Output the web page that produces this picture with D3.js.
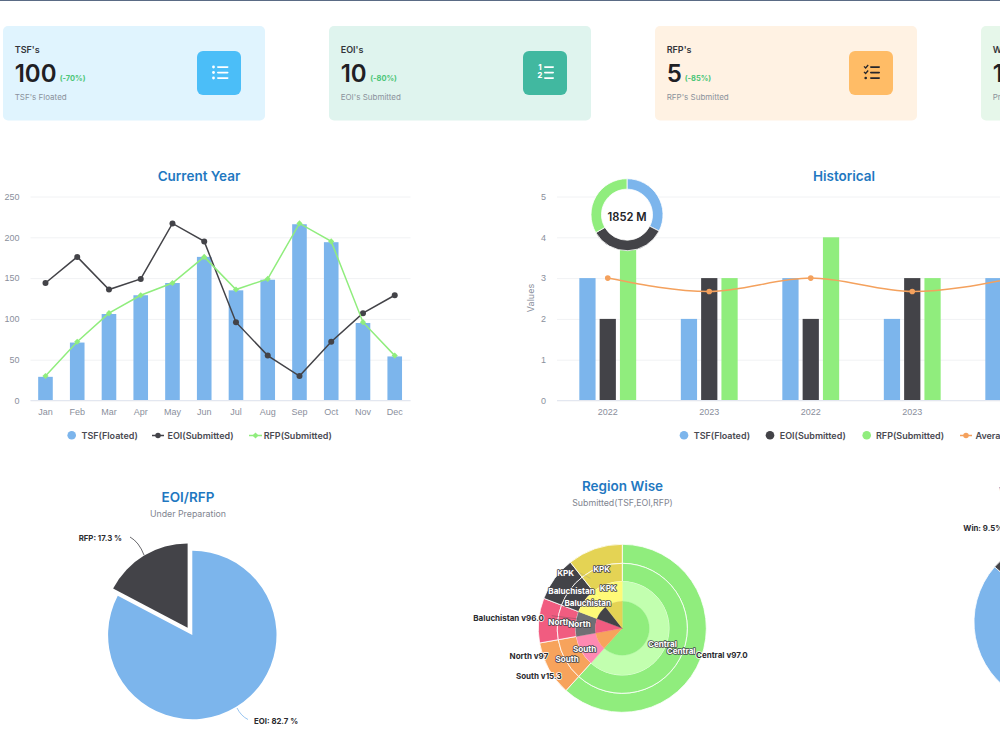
<!DOCTYPE html>
<html>
<head>
<meta charset="utf-8">
<title>Procurement dashboard</title>
<script src="https://cdn.jsdelivr.net/npm/d3@7/dist/d3.min.js"></script>
<style>
  html, body { margin: 0; padding: 0; background: #fff; overflow: hidden; }
  svg { display: block; font-family: Inter, "Noto Sans", sans-serif; }
  .tick-label { font-size: 9px; fill: #8a8f9c; }
  .title { font-size: 13.5px; font-weight: 600; fill: #1f78c1; text-anchor: middle; }
  .subtitle { font-size: 8.8px; fill: #7f8590; text-anchor: middle; }
  .legend { font-size: 9px; font-weight: 600; fill: #4a4a52; }
  .data-label { font-size: 7.8px; font-weight: 700; fill: #2b2b30; }
  .ring-label { font-size: 8.1px; font-weight: 700; fill: #fff; stroke: #46464c; stroke-width: 1.6px;
                paint-order: stroke; stroke-linejoin: round; text-anchor: middle; }
  .outer-label { font-size: 8px; font-weight: 700; fill: #2b2b30; stroke: #fff; stroke-width: 1.4px;
                 paint-order: stroke; stroke-linejoin: round; }
</style>
</head>
<body>
<svg id="board" width="1000" height="750"></svg>
<script>
// Summary cards
const cardTitles = ["TSF's", "EOI's", "RFP's", "Win's"];
const cardTotals = ["100", "10", "5", "10"];
const cardChanges = ["(-70%)", "(-80%)", "(-85%)", "(-90%)"];
const cardCaptions = ["TSF's Floated", "EOI's Submitted", "RFP's Submitted", "Projects Won"];

// Current year
const months = ["Jan","Feb","Mar","Apr","May","Jun","Jul","Aug","Sep","Oct","Nov","Dec"];
const tsfMonthly = [29, 71, 106, 129, 144, 176, 135, 148, 216, 194, 95, 54];
const eoiMonthly = [144, 176, 136, 149, 217, 195, 96, 55, 30, 72, 107, 129];
const rfpMonthly = [30, 72, 107, 129, 144, 176, 136, 149, 217, 195, 96, 55];

// Historical
const years = ["2022", "2023", "2022", "2023", "2022"];
const tsfHistory = [3, 2, 3, 2, 3];
const eoiHistory = [2, 3, 2, 3, 2];
const rfpHistory = [4, 3, 4, 3, 4];
const avgHistory = [3, 2.67, 3, 2.67, 3];
const totalNames = ["TSF", "EOI", "RFP"];
const totalValues = [602, 633, 617];

// Pies
const prepNames = ["EOI", "RFP"];
const prepShares = [82.7, 17.3];
const winNames = ["Lost", "Win", "Pending"];
const winShares = [86.4, 9.5, 4.1];

// Region sunburst
const regions = ["Central", "South", "North", "Baluchistan", "KPK"];
const regionShares = [61.7, 10.5, 8.6, 8.6, 10.6];
const regionVersions = ["v97.0", "v15.3", "v97", "v96.0"];

const BLUE = "#7cb5ec", DARK = "#434348", GREEN = "#90ed7d", ORANGE = "#f7a35c",
      PINK = "#f15c80", GOLD = "#e4d354";

const svg = d3.select("#board");
svg.append("rect").attr("width", 1000).attr("height", 1).attr("fill", "#5a6b85");

/* ---------- cards ---------- */
const cardStyle = [
  { x: 3,   bg: "#e0f4fe", icon: "#4bbef8", glyph: "list" },
  { x: 329, bg: "#dff4ee", icon: "#41b8a0", glyph: "numbered" },
  { x: 655, bg: "#fff2e3", icon: "#ffbc66", glyph: "checks" },
  { x: 981, bg: "#e6f7ea", icon: "#7bd08f", glyph: "list" }
];
const numberWidth = [40.5, 25, 13.5, 25];

function drawGlyph(g, kind) {
  const ink = kind === "checks" ? "#26262b" : "#fff";
  [0, 5.5, 11].forEach((dy, i) => {
    g.append("rect").attr("x", kind === "list" ? 5 : 6).attr("y", dy - 0.8)
      .attr("width", kind === "list" ? 11.5 : 10).attr("height", 1.7).attr("rx", 0.8).attr("fill", ink);
    if (kind === "list") {
      g.append("circle").attr("cx", 1.5).attr("cy", dy).attr("r", 1.4).attr("fill", ink);
    } else if (kind === "checks") {
      if (i < 2) {
        g.append("path").attr("d", `M0 ${dy - 0.6}l1.6 1.6l2.6-3`).attr("fill", "none")
          .attr("stroke", ink).attr("stroke-width", 1.3);
      } else {
        g.append("circle").attr("cx", 1.7).attr("cy", dy).attr("r", 1.3).attr("fill", ink);
      }
    }
  });
  if (kind === "numbered") {
    ["1", "2"].forEach((t, i) => g.append("text").attr("x", 2).attr("y", 3 + i * 7.5)
      .attr("text-anchor", "middle").attr("font-size", 7.5).attr("font-weight", 800)
      .attr("fill", ink).text(t));
  }
}

cardStyle.forEach((c, i) => {
  const g = svg.append("g").attr("transform", `translate(${c.x},26)`);
  g.append("rect").attr("width", 262).attr("height", 94.5).attr("rx", 5).attr("fill", c.bg);
  g.append("text").attr("x", 11.7).attr("y", 27).attr("font-size", 9).attr("font-weight", 600)
    .attr("fill", "#33343a").text(cardTitles[i]);
  g.append("text").attr("x", 11.7).attr("y", 56).attr("font-size", 24).attr("font-weight", 600)
    .attr("fill", "#1f2024").text(cardTotals[i]);
  g.append("text").attr("x", 11.7 + numberWidth[i] + 4.5).attr("y", 55).attr("font-size", 7.5)
    .attr("font-weight", 700).attr("fill", "#4cc678").text(cardChanges[i]);
  g.append("text").attr("x", 11.7).attr("y", 73.5).attr("font-size", 8)
    .attr("fill", "#8b929c").text(cardCaptions[i]);
  g.append("rect").attr("x", 194).attr("y", 25).attr("width", 44).attr("height", 44)
    .attr("rx", 6).attr("fill", c.icon);
  drawGlyph(g.append("g").attr("transform", "translate(209,41)"), c.glyph);
});

/* ---------- shared axis helpers ---------- */
function yGrid(scale, x0, x1, ticks) {
  const g = svg.append("g").attr("transform", `translate(${x0},0)`)
    .call(d3.axisLeft(scale).tickValues(ticks).tickSize(-(x1 - x0)).tickFormat(""));
  g.select(".domain").remove();
  g.selectAll("line").attr("stroke", "#f1f2f4");
  return g;
}
function yLabels(scale, xRight, ticks) {
  const g = svg.append("g").attr("transform", `translate(${xRight},0)`)
    .call(d3.axisLeft(scale).tickValues(ticks).tickSize(0).tickPadding(0).tickFormat(d3.format("d")));
  g.select(".domain").remove();
  g.selectAll("text").attr("class", "tick-label").attr("font-family", null).attr("font-size", null);
}
function xAxis(band, baseline, x0, x1, labels) {
  svg.append("line").attr("x1", x0).attr("x2", x1).attr("y1", baseline).attr("y2", baseline)
    .attr("stroke", "#e3e7f0").attr("stroke-width", 1);
  const g = svg.append("g").attr("transform", `translate(0,${baseline})`)
    .call(d3.axisBottom(band).tickSize(0).tickPadding(8).tickFormat(i => labels[i]));
  g.select(".domain").remove();
  g.selectAll("text").attr("class", "tick-label").attr("font-family", null).attr("font-size", null);
}
function legendText(x, label) {
  svg.append("text").attr("class", "legend").attr("x", x).attr("y", 438.5).text(label);
}
function legendDot(x, color) {
  svg.append("circle").attr("cx", x).attr("cy", 435.3).attr("r", 4.3).attr("fill", color);
}
function legendLine(x0, x1, color, marker, size) {
  svg.append("line").attr("x1", x0).attr("x2", x1).attr("y1", 435.5).attr("y2", 435.5)
    .attr("stroke", color).attr("stroke-width", 1.5);
  svg.append("path").attr("transform", `translate(${(x0 + x1) / 2},435.5)`)
    .attr("d", d3.symbol(marker, size)()).attr("fill", color);
}

/* ---------- current year ---------- */
const BASE = 400.5, TOP = 196.5;
const yMonthly = d3.scaleLinear().domain([0, 250]).range([BASE, TOP]);
const xMonthly = d3.scaleBand().domain(d3.range(months.length)).range([29.6, 410.6])
  .paddingInner(0.54).paddingOuter(0.27);
const monthTicks = [0, 50, 100, 150, 200, 250];

svg.append("text").attr("class", "title").attr("x", 199).attr("y", 181).text("Current Year");
yGrid(yMonthly, 30.5, 410.5, monthTicks);
yLabels(yMonthly, 19.5, monthTicks);

svg.append("g").selectAll("rect").data(tsfMonthly).join("rect")
  .attr("x", (d, i) => xMonthly(i)).attr("width", xMonthly.bandwidth())
  .attr("y", d => yMonthly(d)).attr("height", d => BASE - yMonthly(d))
  .attr("fill", BLUE);
xAxis(xMonthly, BASE, 30.5, 410.5, months);

const monthLine = d3.line().x((d, i) => xMonthly(i) + xMonthly.bandwidth() / 2).y(d => yMonthly(d));
svg.append("path").attr("d", monthLine(eoiMonthly)).attr("fill", "none").attr("stroke", DARK).attr("stroke-width", 1.5);
svg.append("g").selectAll("circle").data(eoiMonthly).join("circle")
  .attr("cx", (d, i) => xMonthly(i) + xMonthly.bandwidth() / 2).attr("cy", d => yMonthly(d))
  .attr("r", 3).attr("fill", DARK);
svg.append("path").attr("d", monthLine(rfpMonthly)).attr("fill", "none").attr("stroke", GREEN).attr("stroke-width", 1.5);
svg.append("g").selectAll("path").data(rfpMonthly).join("path")
  .attr("transform", (d, i) => `translate(${xMonthly(i) + xMonthly.bandwidth() / 2},${yMonthly(d)})`)
  .attr("d", d3.symbol(d3.symbolDiamond2, 24)()).attr("fill", GREEN);

legendDot(71.7, BLUE);
legendText(81.5, "TSF(Floated)");
legendLine(152, 164, DARK, d3.symbolCircle, 24);
legendText(167.5, "EOI(Submitted)");
legendLine(249, 262, GREEN, d3.symbolDiamond2, 24);
legendText(263.7, "RFP(Submitted)");

/* ---------- historical ---------- */
const yHistory = d3.scaleLinear().domain([0, 5]).range([BASE, TOP]);
const xHistory = d3.scaleBand().domain(d3.range(years.length)).range([557, 1064.5])
  .paddingInner(0.4).paddingOuter(0.2);
const xSeries = d3.scaleBand().domain([0, 1, 2]).range([0, xHistory.bandwidth()])
  .paddingInner(0.2).paddingOuter(0.1);
const historyTicks = [0, 1, 2, 3, 4, 5];

svg.append("text").attr("class", "title").attr("x", 844).attr("y", 181).text("Historical");
yGrid(yHistory, 557, 1064.5, historyTicks);
yLabels(yHistory, 546, historyTicks);
svg.append("text").attr("class", "tick-label").attr("text-anchor", "middle")
  .attr("transform", "translate(534,298) rotate(-90)").text("Values");

[[tsfHistory, BLUE], [eoiHistory, DARK], [rfpHistory, GREEN]].forEach(([values, color], s) => {
  svg.append("g").selectAll("rect").data(values).join("rect")
    .attr("x", (d, i) => xHistory(i) + xSeries(s)).attr("width", xSeries.bandwidth())
    .attr("y", d => yHistory(d)).attr("height", d => BASE - yHistory(d))
    .attr("fill", color);
});
xAxis(xHistory, BASE, 557, 1064.5, years);

const avgColor = "#f4a15d";
const avgX = (d, i) => xHistory(i) + xHistory.bandwidth() / 2;
svg.append("path").attr("fill", "none").attr("stroke", avgColor).attr("stroke-width", 1.5)
  .attr("d", d3.line().curve(d3.curveMonotoneX).x(avgX).y(d => yHistory(d))(avgHistory));
svg.append("g").selectAll("circle").data(avgHistory).join("circle")
  .attr("cx", avgX).attr("cy", d => yHistory(d)).attr("r", 2.8).attr("fill", avgColor);

legendDot(684, BLUE);
legendText(693.7, "TSF(Floated)");
legendDot(770, DARK);
legendText(779.7, "EOI(Submitted)");
legendDot(866.7, GREEN);
legendText(876, "RFP(Submitted)");
legendLine(960, 972, avgColor, d3.symbolCircle, 24);
legendText(975.5, "Average");

// Total ring sitting over the first group of bars
const ring = svg.append("g").attr("transform", "translate(627,214.7)");
ring.append("circle").attr("r", 26).attr("fill", "#fff");
ring.selectAll("path").data(d3.pie().sort(null)(totalValues)).join("path")
  .attr("d", d3.arc().innerRadius(25.5).outerRadius(36))
  .attr("fill", (d, i) => [BLUE, DARK, GREEN][i]).attr("stroke", "#fff").attr("stroke-width", 0.8);
ring.append("text").attr("text-anchor", "middle").attr("y", 6.4).attr("font-size", 11.2)
  .attr("font-weight", 600).attr("fill", "#222327").text(`${d3.sum(totalValues)} M`);

/* ---------- pies ---------- */
const pieGen = d3.pie().sort(null);

svg.append("text").attr("class", "title").attr("x", 188).attr("y", 501.5).text("EOI/RFP");
svg.append("text").attr("class", "subtitle").attr("x", 188).attr("y", 517).text("Under Preparation");

const prepGroup = svg.append("g").attr("transform", "translate(192.3,635)");
const prepArc = d3.arc().innerRadius(0).outerRadius(84.2);
prepGroup.selectAll("path").data(pieGen(prepShares)).join("path")
  .attr("d", prepArc)
  .attr("transform", (d, i) => {
    if (i !== 1) return null;
    const mid = (d.startAngle + d.endAngle) / 2;
    return `translate(${9 * Math.sin(mid)},${-8.6 * Math.cos(mid)})`;
  })
  .attr("fill", (d, i) => [BLUE, DARK][i]);

svg.append("path").attr("d", "M130 537 Q139 542 144 555").attr("fill", "none").attr("stroke", DARK).attr("stroke-width", 0.8);
svg.append("path").attr("d", "M237 708 Q241 716 248 719.5").attr("fill", "none").attr("stroke", BLUE).attr("stroke-width", 0.8);
svg.append("text").attr("class", "data-label").attr("x", 122).attr("y", 541).attr("text-anchor", "end")
  .text(`${prepNames[1]}: ${prepShares[1]} %`);
svg.append("text").attr("class", "data-label").attr("x", 254).attr("y", 724)
  .text(`${prepNames[0]}: ${prepShares[0]} %`);

// Third pie runs off the right edge of the page
svg.append("text").attr("class", "title").attr("x", 999).attr("y", 497).style("text-anchor", "start").text("Win/Loss Summary");
const winGroup = svg.append("g").attr("transform", "translate(1058,622)");
winGroup.selectAll("path").data(pieGen(winShares)).join("path")
  .attr("d", d3.arc().innerRadius(0).outerRadius(84))
  .attr("fill", (d, i) => [BLUE, DARK, GREEN][i]).attr("stroke", "#fff").attr("stroke-width", 0.8);
svg.append("text").attr("class", "data-label").attr("x", 963.3).attr("y", 531)
  .text(`${winNames[1]}: ${winShares[1]}%`);

/* ---------- region sunburst ---------- */
svg.append("text").attr("class", "title").attr("x", 622.5).attr("y", 490.5).text("Region Wise");
svg.append("text").attr("class", "subtitle").attr("x", 622.5).attr("y", 506).text("Submitted(TSF,EOI,RFP)");

const burst = svg.append("g").attr("transform", "translate(622.3,628.3)");
const ringBands = [[0, 27], [27, 46.7], [46.7, 65], [65, 84]];
const ringColors = [
  [GREEN, ORANGE, PINK, DARK, GOLD],
  ["#c2ffaf", "#ff8ab2", "#6f6f74", "#fffa78", "#fffa78"],
  [GREEN, ORANGE, PINK, DARK, GOLD],
  [GREEN, ORANGE, PINK, DARK, GOLD]
];
const regionArcs = pieGen(regionShares);
// Outer rings first: the two inner rings carry no white outline of their own
[3, 2, 1, 0].forEach(level => {
  const [r0, r1] = ringBands[level];
  burst.append("g").selectAll("path").data(regionArcs).join("path")
    .attr("d", d3.arc().innerRadius(r0).outerRadius(r1))
    .attr("fill", (d, i) => ringColors[level][i])
    .attr("stroke", level > 1 ? "#fff" : (d, i) => ringColors[level][i])
    .attr("stroke-width", level > 1 ? 0.8 : 0.3);
});
[[DARK, -70.6, -12.6, -44, -9.3], ["#8a8a8f", -42.3, -55.3, -32, -50]].forEach(([c, x0, y0, x1, y1]) => {
  burst.append("line").attr("x1", x0).attr("y1", y0).attr("x2", x1).attr("y2", y1)
    .attr("stroke", c).attr("stroke-opacity", 0.45).attr("stroke-width", 0.7);
});

const polar = (d, r) => {
  const mid = (d.startAngle + d.endAngle) / 2;
  return [r * Math.sin(mid), -r * Math.cos(mid)];
};
// Mid ring first so the inner ring's labels sit on top where they collide
[63, 43].forEach(r => {
  burst.append("g").selectAll("text").data(regionArcs).join("text")
    .attr("class", "ring-label").attr("dy", ".35em")
    .attr("transform", d => `translate(${polar(d, r)})`)
    .text((d, i) => regions[i]);
});
burst.append("text").attr("class", "ring-label").attr("dy", ".35em")
  .attr("transform", "translate(-56.6,-55)").text(regions[4]);

const outerOffsets = [[73.7, 26.7, "start"], [-60.6, 48.4, "end"], [-74, 27.7, "end"], [-78.3, -10.6, "end"]];
const outerRegionOrder = [0, 1, 2, 3];
burst.append("g").selectAll("text").data(outerRegionOrder).join("text")
  .attr("class", "outer-label").attr("dy", ".35em")
  .attr("x", i => outerOffsets[i][0]).attr("y", i => outerOffsets[i][1])
  .attr("text-anchor", i => outerOffsets[i][2])
  .text(i => `${regions[i]} ${regionVersions[i]}`);
</script>
</body>
</html>
